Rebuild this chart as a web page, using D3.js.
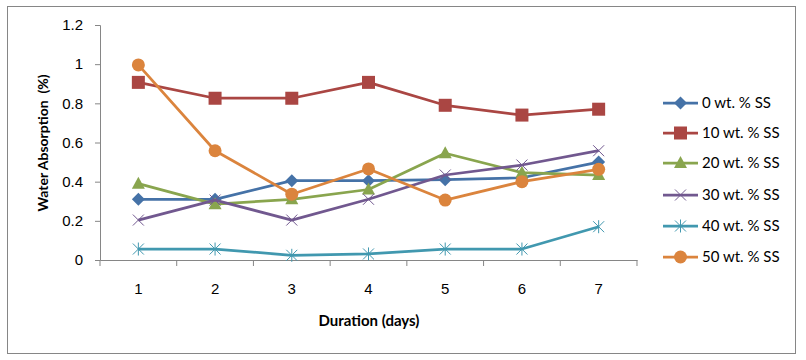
<!DOCTYPE html>
<html>
<head>
<meta charset="utf-8">
<script src="https://cdn.jsdelivr.net/npm/d3@7"></script>
<style>
    body { margin: 0; background: #fff; }
    svg { display: block; font-family: Lato, "Open Sans", sans-serif; }
</style>
</head>
<body>
<div id="chart"></div>
<script>
const days = [1, 2, 3, 4, 5, 6, 7];
const yTicks = [0, 0.2, 0.4, 0.6, 0.8, 1, 1.2];
const seriesNames = ["0 wt. % SS", "10 wt. % SS", "20 wt. % SS", "30 wt. % SS", "40 wt. % SS", "50 wt. % SS"];
const ss0  = [0.31, 0.31, 0.405, 0.405, 0.41, 0.42, 0.50];
const ss10 = [0.907, 0.826, 0.826, 0.907, 0.79, 0.74, 0.77];
const ss20 = [0.39, 0.285, 0.31, 0.36, 0.545, 0.446, 0.434];
const ss30 = [0.204, 0.306, 0.204, 0.31, 0.434, 0.485, 0.558];
const ss40 = [0.056, 0.056, 0.024, 0.031, 0.056, 0.056, 0.17];
const ss50 = [0.996, 0.558, 0.336, 0.465, 0.306, 0.40, 0.463];

const colors = ["#4572A7", "#AA4643", "#89A54E", "#71588F", "#4198AF", "#DB843D"];
const markers = ["diamond", "square", "triangle", "cross", "star", "circle"];
const allSeries = [ss0, ss10, ss20, ss30, ss40, ss50];

const W = 806, H = 360;
const fontSize = "15px";
const margin = { top: 25, left: 100, right: 169, bottom: 100 };
const width = 637 - margin.left;
const height = 260 - margin.top;

const svg = d3.select("#chart").append("svg")
    .attr("width", W)
    .attr("height", H);

// outer chart border
svg.append("rect")
    .attr("x", 7.5).attr("y", 6.5)
    .attr("width", 788).attr("height", 347)
    .attr("fill", "none")
    .attr("stroke", "#868686")
    .attr("stroke-width", 1);

const g = svg.append("g")
    .attr("transform", `translate(${margin.left},${margin.top})`);

const x = d3.scaleBand().domain(days).range([0, width]);
const y = d3.scaleLinear().domain([0, 1.2]).range([height, 0]);

// y axis
const yAxis = g.append("g")
    .call(d3.axisLeft(y).tickValues(yTicks).tickSize(5).tickPadding(12).tickFormat(d => d));
// x axis: ticks sit between categories like Excel
const xAxis = g.append("g")
    .attr("transform", `translate(0,${height})`)
    .call(d3.axisBottom(x).tickSize(0).tickPadding(23));
xAxis.selectAll(".tick").each(function() {
    d3.select(this).append("line")
        .attr("x1", x.bandwidth() / 2).attr("x2", x.bandwidth() / 2)
        .attr("y1", 0).attr("y2", 6)
        .attr("stroke", "#868686");
});
xAxis.append("line")
    .attr("x1", 0).attr("x2", 0).attr("y1", 0).attr("y2", 6)
    .attr("stroke", "#868686");

[yAxis, xAxis].forEach(ax => {
    ax.select(".domain").attr("stroke", "#868686");
    ax.selectAll(".tick line").attr("stroke", "#868686");
    ax.selectAll("text").attr("fill", "#000").style("font-size", fontSize);
});

// axis titles
svg.append("text")
    .attr("x", 369).attr("y", 326)
    .attr("text-anchor", "middle")
    .style("font-size", fontSize).style("font-weight", "bold")
    .text("Duration (days)");
svg.append("text")
    .attr("transform", "translate(48,143) rotate(-90)")
    .attr("text-anchor", "middle")
    .style("font-size", "14px").style("font-weight", "bold")
    .attr("xml:space", "preserve")
    .text("Water Absorption  (%)");

function drawMarker(sel, type, color) {
    if (type === "diamond") {
        sel.append("path").attr("d", "M0,-6.5L6.5,0L0,6.5L-6.5,0Z").attr("fill", color);
    } else if (type === "square") {
        sel.append("rect").attr("x", -6.5).attr("y", -6.5).attr("width", 13).attr("height", 13).attr("fill", color);
    } else if (type === "triangle") {
        sel.append("path").attr("d", "M0,-7L6.5,5L-6.5,5Z").attr("fill", color);
    } else if (type === "circle") {
        sel.append("circle").attr("r", 6.5).attr("fill", color);
    } else if (type === "cross") {
        sel.append("path").attr("d", "M-5.5,-5.5L5.5,5.5M-5.5,5.5L5.5,-5.5")
            .attr("stroke", color).attr("stroke-width", 1).attr("fill", "none");
    } else if (type === "star") {
        sel.append("path").attr("d", "M-5.5,-5.5L5.5,5.5M-5.5,5.5L5.5,-5.5M0,-6.5L0,6.5")
            .attr("stroke", color).attr("stroke-width", 1).attr("fill", "none");
    }
}

const line = d3.line()
    .x((d, i) => x(days[i]) + x.bandwidth() / 2)
    .y(d => y(d));

allSeries.forEach((vals, s) => {
    g.append("path")
        .datum(vals)
        .attr("fill", "none")
        .attr("stroke", colors[s])
        .attr("stroke-width", 2.75)
        .attr("stroke-linejoin", "round")
        .attr("d", line);
    vals.forEach((v, i) => {
        const m = g.append("g")
            .attr("transform", `translate(${x(days[i]) + x.bandwidth() / 2},${y(v)})`);
        drawMarker(m, markers[s], colors[s]);
    });
});

// legend
const legend = svg.append("g");
const legendY = [103, 133, 163, 195, 226, 257];
seriesNames.forEach((name, s) => {
    const item = legend.append("g").attr("transform", `translate(663,${legendY[s]})`);
    item.append("line")
        .attr("x1", 0).attr("x2", 35)
        .attr("stroke", colors[s]).attr("stroke-width", 2.75);
    const m = item.append("g").attr("transform", "translate(17.5,0)");
    drawMarker(m, markers[s], colors[s]);
    item.append("text")
        .attr("x", 39).attr("dy", "0.35em")
        .style("font-size", fontSize)
        .text(name);
});
</script>
</body>
</html>
